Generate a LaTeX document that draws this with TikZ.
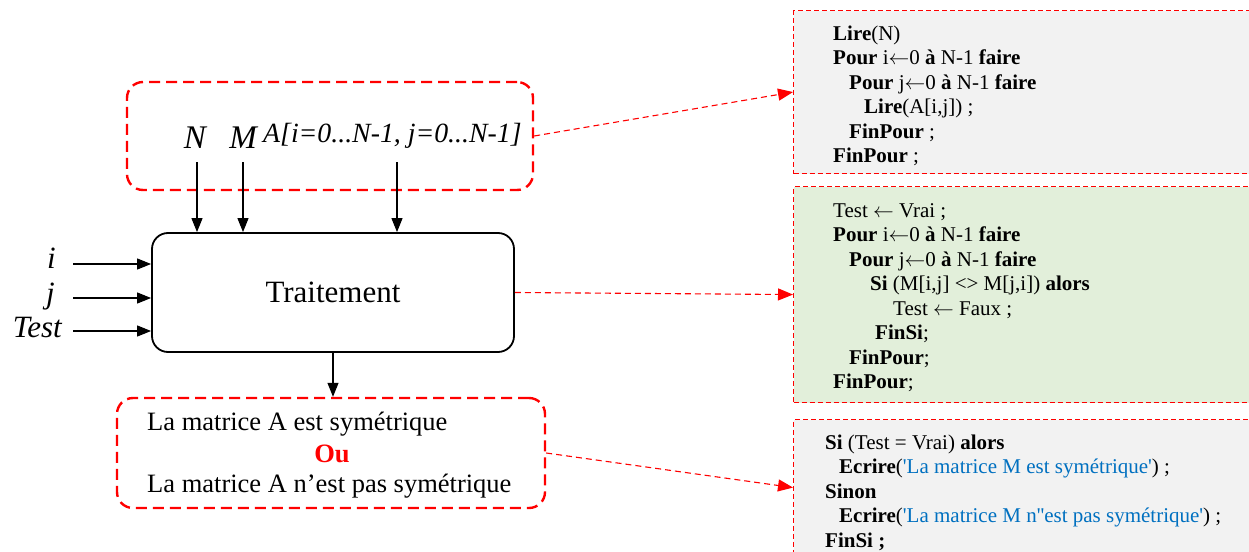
\documentclass[tikz,border=0pt]{standalone}
\usepackage{fontspec}
\setmainfont{Liberation Serif}
\usetikzlibrary{arrows.meta}

\definecolor{codegray}{HTML}{F2F2F2}
\definecolor{codegreen}{HTML}{E2EFDA}
\definecolor{strblue}{HTML}{0070C0}
\definecolor{dashred}{HTML}{FF0000}

\newcommand{\assign}{\ensuremath{\leftarrow}}

\tikzset{
  groupbox/.style={draw=dashred, line width=2.4pt, dash pattern=on 11pt off 6pt,
    rounded corners=16pt, inner sep=0},
  procbox/.style={draw=black, line width=1.8pt, rounded corners=16pt, inner sep=0,
    font=\fontsize{31}{36}\selectfont},
  codebox/.style={draw=dashred, line width=1.1pt, dash pattern=on 5pt off 3pt,
    inner sep=0, anchor=north west},
  codetext/.style={anchor=north west, align=left, inner sep=0,
    font=\fontsize{21}{24.5}\selectfont},
  varlabel/.style={inner sep=0, font=\itshape\fontsize{31}{36}\selectfont},
  outtext/.style={inner sep=0, anchor=base west, font=\fontsize{26.5}{30}\selectfont},
  flow/.style={line width=1.1pt, -{Triangle[length=14pt,width=11pt]}},
  link/.style={draw=dashred, line width=1.1pt, dash pattern=on 6pt off 4pt,
    -{Triangle[length=15pt,width=12pt]}},
}

\begin{document}
\begin{tikzpicture}[x=1pt,y=-1pt]
\useasboundingbox (0,0) rectangle (1249,551);

% ---- pseudo-code panels ----
\node[codebox, fill=codegray,  minimum width=463, minimum height=163] (code1) at (793,10) {};
\node[codebox, fill=codegreen, minimum width=463, minimum height=216] (code2) at (793,186) {};
\node[codebox, fill=codegray,  minimum width=463, minimum height=136] (code3) at (793,419) {};

\node[codetext] (txt1) at (833,22.8) {%
\strut\textbf{Lire}(N)\\
\textbf{Pour} i\assign0 \textbf{à} N-1 \textbf{faire}\\
\hspace*{16pt}\textbf{Pour} j\assign0 \textbf{à} N-1 \textbf{faire}\\
\hspace*{31pt}\textbf{Lire}(A[i,j]) ;\\
\hspace*{16pt}\textbf{FinPour} ;\\
\textbf{FinPour} ;};

\node[codetext] (txt2) at (833,199.8) {%
\strut Test \assign\ Vrai ;\\
\textbf{Pour} i\assign0 \textbf{à} N-1 \textbf{faire}\\
\hspace*{16pt}\textbf{Pour} j\assign0 \textbf{à} N-1 \textbf{faire}\\
\hspace*{37pt}\textbf{Si} (M[i,j] <> M[j,i]) \textbf{alors}\\
\hspace*{60pt}Test \assign\ Faux ;\\
\hspace*{42pt}\textbf{FinSi};\\
\hspace*{16pt}\textbf{FinPour};\\
\textbf{FinPour};};

\node[codetext] (txt3) at (825,431.8) {%
\strut\textbf{Si} (Test = Vrai) \textbf{alors}\\
\hspace*{14pt}\textbf{Ecrire}(\textcolor{strblue}{\textquotesingle La matrice M est symétrique\textquotesingle}) ;\\
\textbf{Sinon}\\
\hspace*{14pt}\textbf{Ecrire}(\textcolor{strblue}{\textquotesingle La matrice M n\textquotesingle\textquotesingle est pas symétrique\textquotesingle}) ;\\
\textbf{FinSi ;}};

% ---- input group ----
\node[groupbox, minimum width=406, minimum height=108] (inbox) at (330,136) {};
\node[varlabel, anchor=base, font=\itshape\fontsize{33}{38}\selectfont] (vN) at (195,148) {N};
\node[varlabel, anchor=base, font=\itshape\fontsize{33}{38}\selectfont] (vM) at (243,148) {M};
\node[varlabel, anchor=base west, font=\itshape\fontsize{27.8}{32}\selectfont] (vA) at (263,142)
  {A[i=0...N-1, j=0...N-1]};

% ---- processing block ----
\node[procbox, minimum width=362, minimum height=119] (trait) at (333,292.5) {Traitement};

% ---- side inputs ----
\node[varlabel, anchor=base east] (li) at (56,268) {i};
\node[varlabel, anchor=base east] (lj) at (55,303) {j};
\node[varlabel, anchor=base east] (lt) at (62,337) {Test};

\coordinate (si) at (73,264);
\coordinate (sj) at (73,298);
\coordinate (st) at (73,331);
\draw[flow] (si) -- (si -| trait.west);
\draw[flow] (sj) -- (sj -| trait.west);
\draw[flow] (st) -- (st -| trait.west);

\coordinate (sN) at (197,162);
\coordinate (sM) at (243,162);
\coordinate (sA) at (397,162);
\draw[flow] (sN) -- (sN |- trait.north);
\draw[flow] (sM) -- (sM |- trait.north);
\draw[flow] (sA) -- (sA |- trait.north);

% ---- result group ----
\node[groupbox, minimum width=428, minimum height=110] (outbox) at (331,453) {};
\node[outtext] (r1) at (147,430) {La matrice A est symétrique};
\node[outtext, anchor=base, text=dashred, font=\bfseries\fontsize{26.5}{30}\selectfont] (ou) at (332,462) {Ou};
\node[outtext] (r2) at (147,492) {La matrice A n’est pas symétrique};

\draw[flow] (trait.south) -- (trait.south |- outbox.north);

% ---- links to the pseudo-code ----
\draw[link] (inbox.east) -- (code1.west);
\draw[link] (trait.east) -- (code2.west);
\draw[link] (outbox.east) -- (code3.west);
\end{tikzpicture}
\end{document}
